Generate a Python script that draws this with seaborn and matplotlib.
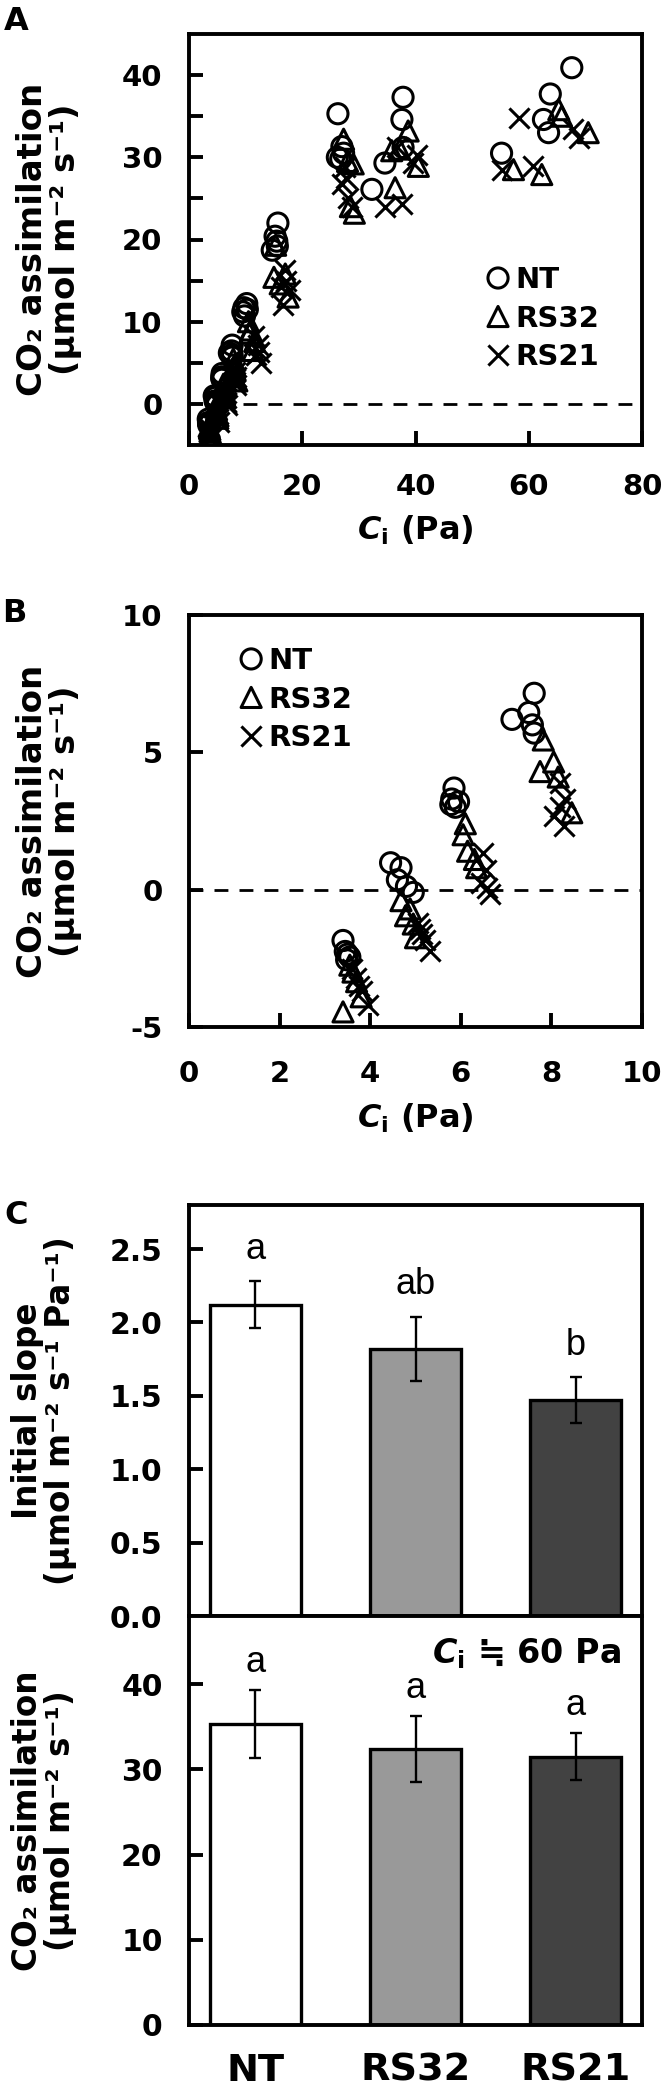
import numpy as np
import matplotlib
matplotlib.use('Agg')
import matplotlib.pyplot as plt
import seaborn as sns
from matplotlib.ticker import FormatStrFormatter

GENOTYPES = ['NT', 'RS32', 'RS21']
MARKERS = ['o', '^', 'x']
BAR_COLORS = ['#ffffff', '#999999', '#424242']

# ── A–Ci points at low Ci (panel B, also drawn in panel A) ──
NT_CI_LOW = [3.40, 3.45, 3.50, 3.55, 3.48, 4.45, 4.68, 4.60, 4.80, 4.95,
             5.85, 5.80, 5.95, 5.88, 5.78, 7.62, 7.13, 7.50, 7.58, 7.62]
NT_A_LOW = [-1.85, -2.25, -2.35, -2.45, -2.55, 0.98, 0.80, 0.36, 0.12, -0.10,
            3.70, 3.30, 3.20, 3.00, 3.10, 7.15, 6.20, 6.45, 6.00, 5.70]
RS32_CI_LOW = [3.40, 3.55, 3.62, 3.70, 3.80, 4.68, 4.78, 4.95, 5.00, 4.88,
               6.10, 6.05, 6.15, 6.30, 6.35, 7.82, 8.05, 7.75, 8.15, 8.45]
RS32_A_LOW = [-4.45, -2.75, -3.00, -3.35, -3.90, -0.40, -0.95, -1.25, -1.75, -0.70,
              2.40, 2.00, 1.40, 1.10, 0.80, 5.45, 4.65, 4.30, 4.10, 2.80]
RS21_CI_LOW = [3.60, 3.68, 3.75, 3.82, 3.95, 5.05, 5.10, 5.15, 5.20, 5.32,
               6.48, 6.55, 6.45, 6.58, 6.65, 8.20, 8.30, 8.20, 8.05, 8.28]
RS21_A_LOW = [-2.90, -3.20, -3.50, -3.70, -4.20, -1.20, -1.45, -1.60, -1.85, -2.25,
              1.35, 0.70, 0.25, 0.05, -0.15, 3.90, 3.30, 3.00, 2.70, 2.30]

# ── A–Ci points at higher Ci (panel A only) ──
NT_CI_HIGH = [10.2, 9.7, 9.5, 9.8, 10.3, 15.7, 15.2, 15.5, 14.7, 15.6,
              26.3, 26.2, 27.0, 27.3, 26.8, 32.3, 34.6, 37.8, 37.6, 37.8,
              67.6, 63.8, 62.6, 63.5, 55.2]
NT_A_HIGH = [12.2, 11.7, 11.2, 10.7, 11.5, 22.0, 20.4, 19.8, 18.7, 19.2,
             35.3, 30.0, 31.3, 30.5, 29.8, 26.1, 29.3, 37.3, 34.6, 31.2,
             40.9, 37.7, 34.6, 33.0, 30.5]
RS32_CI_HIGH = [10.5, 10.9, 11.6, 11.3, 10.7, 15.3, 15.0, 16.1, 17.0, 17.5,
                27.3, 28.0, 29.0, 28.5, 29.2, 38.7, 35.8, 36.4, 40.5, 37.2,
                65.3, 65.8, 70.5, 57.3, 62.3]
RS32_A_HIGH = [10.0, 9.0, 7.6, 6.5, 8.6, 19.3, 15.4, 14.6, 15.8, 13.0,
               32.2, 29.5, 29.2, 24.0, 23.2, 33.2, 30.8, 26.3, 28.9, 31.0,
               35.8, 35.0, 33.0, 28.5, 27.9]
RS21_CI_HIGH = [11.5, 12.1, 12.4, 12.7, 11.9, 16.9, 16.3, 17.8, 17.2, 16.6,
                27.5, 27.0, 28.0, 28.8, 27.8, 36.7, 40.2, 34.6, 37.6, 39.5,
                58.2, 67.9, 68.8, 55.2, 60.8]
RS21_A_HIGH = [8.3, 7.2, 6.3, 5.0, 6.0, 16.3, 14.2, 13.8, 15.0, 12.0,
               28.8, 26.8, 25.0, 24.0, 27.5, 31.2, 30.3, 23.9, 24.3, 29.3,
               34.8, 33.4, 32.4, 28.5, 28.9]

# ── panel C bars ──
SLOPE = [2.12, 1.82, 1.47]
SLOPE_ERR = [0.16, 0.22, 0.155]
SLOPE_LETTERS = ['a', 'ab', 'b']
A60 = [35.3, 32.4, 31.5]
A60_ERR = [4.0, 3.9, 2.8]
A60_LETTERS = ['a', 'a', 'a']

W, H = 662, 2090
MS = 210
MLW = 2.2

sns.set_style('ticks')
plt.rcParams['font.family'] = ['DejaVu Sans']
plt.rcParams['font.weight'] = 'bold'
plt.rcParams['axes.labelweight'] = 'bold'
plt.rcParams['text.color'] = 'black'
plt.rcParams['axes.edgecolor'] = 'black'
plt.rcParams['axes.labelcolor'] = 'black'
plt.rcParams['xtick.color'] = 'black'
plt.rcParams['ytick.color'] = 'black'
plt.rcParams['axes.linewidth'] = 2.8
plt.rcParams['axes.unicode_minus'] = False
plt.rcParams['mathtext.fontset'] = 'custom'
plt.rcParams['mathtext.rm'] = 'DejaVu Sans:bold'
plt.rcParams['mathtext.it'] = 'DejaVu Sans:italic:bold'
plt.rcParams['mathtext.default'] = 'regular'

YLAB_CO2 = 'CO₂ assimilation\n(μmol m⁻² s⁻¹)'
YLAB_SLOPE = 'Initial slope\n(μmol m⁻² s⁻¹ Pa⁻¹)'
XLAB_CI = r'$\mathit{C}_{\mathrm{i}}$ (Pa)'


def px_axes(fig, left, top, right, bottom):
    return fig.add_axes([left / W, 1 - bottom / H, (right - left) / W, (bottom - top) / H])


def style_axes(ax, xpad, ypad=19, size=21):
    ax.tick_params(axis='both', which='both', direction='in', length=10, width=2.8,
                   labelsize=size, top=False, right=False)
    ax.tick_params(axis='x', pad=xpad)
    ax.tick_params(axis='y', pad=ypad)
    for s in ax.spines.values():
        s.set_linewidth(2.8)
        s.set_visible(True)


def draw_scatter(ax, ci_sets, a_sets):
    for g, m, ci, a in zip(GENOTYPES, MARKERS, ci_sets, a_sets):
        if m == 'x':
            sns.scatterplot(x=ci, y=a, marker=m, s=MS, color='black',
                            linewidth=MLW, ax=ax, label=g, zorder=3)
        else:
            sns.scatterplot(x=ci, y=a, marker=m, s=MS, facecolor='none',
                            edgecolor='black', linewidth=MLW, ax=ax, label=g, zorder=3)


def add_legend(ax, anchor):
    ax.legend(loc='upper left', bbox_to_anchor=anchor, frameon=False,
              prop={'weight': 'bold', 'size': 21}, handlelength=1.0, handletextpad=0.1,
              labelspacing=0.36, borderpad=0, borderaxespad=0, scatteryoffsets=[0.5])


fig = plt.figure(figsize=(W / 100, H / 100), dpi=100)

# ── Panel A ──
axA = px_axes(fig, 189, 34, 642, 445)
ci_all = [NT_CI_LOW + NT_CI_HIGH, RS32_CI_LOW + RS32_CI_HIGH, RS21_CI_LOW + RS21_CI_HIGH]
a_all = [NT_A_LOW + NT_A_HIGH, RS32_A_LOW + RS32_A_HIGH, RS21_A_LOW + RS21_A_HIGH]
draw_scatter(axA, ci_all, a_all)
axA.axhline(0, xmin=0.12, xmax=1, color='black', lw=2, ls=(0, (5, 4)), zorder=1)
axA.set_xlim(0, 80)
axA.set_ylim(-5, 45)
axA.set_xticks([0, 20, 40, 60, 80])
axA.set_yticks([0, 10, 20, 30, 40])
axA.set_yticks([5, 15, 25, 35], minor=True)
style_axes(axA, xpad=20)
add_legend(axA, (0.65, 0.435))
axA.set_ylabel(YLAB_CO2, fontsize=24.5, va='center', linespacing=1.0)
axA.yaxis.set_label_coords(-0.31, 0.5)
axA.set_xlabel(XLAB_CI, fontsize=23, va='center')
axA.xaxis.set_label_coords(0.5, -0.207)

# ── Panel B ──
axB = px_axes(fig, 189, 615, 642, 1027)
draw_scatter(axB, [NT_CI_LOW, RS32_CI_LOW, RS21_CI_LOW], [NT_A_LOW, RS32_A_LOW, RS21_A_LOW])
axB.axhline(0, color='black', lw=2, ls=(0, (5, 4)), zorder=1)
axB.set_xlim(0, 10)
axB.set_ylim(-5, 10)
axB.set_xticks([0, 2, 4, 6, 8, 10])
axB.set_yticks([-5, 0, 5, 10])
style_axes(axB, xpad=24)
add_legend(axB, (0.105, 0.922))
axB.set_ylabel(YLAB_CO2, fontsize=24.5, va='center', linespacing=1.0)
axB.yaxis.set_label_coords(-0.31, 0.5)
axB.set_xlabel(XLAB_CI, fontsize=23, va='center')
axB.xaxis.set_label_coords(0.5, -0.221)

# ── Panel C, initial slope ──
axC1 = px_axes(fig, 189, 1205, 642, 1616)
sns.barplot(x=GENOTYPES, y=SLOPE, hue=GENOTYPES, palette=BAR_COLORS, width=0.57,
            edgecolor='black', linewidth=2.4, errorbar=None, legend=False, ax=axC1)
axC1.errorbar(x=np.arange(len(GENOTYPES)), y=SLOPE, yerr=SLOPE_ERR, fmt='none',
              ecolor='black', elinewidth=1.7, capsize=4, capthick=1.7, zorder=5)
for i, (v, e, t) in enumerate(zip(SLOPE, SLOPE_ERR, SLOPE_LETTERS)):
    axC1.text(i, v + e + 0.22, t, ha='center', va='center', fontsize=26,
              fontweight='normal', family='Liberation Sans')
axC1.set_ylim(0, 2.8)
axC1.set_yticks([0, 0.5, 1.0, 1.5, 2.0, 2.5])
axC1.yaxis.set_major_formatter(FormatStrFormatter('%.1f'))
style_axes(axC1, xpad=20, size=21.5)
axC1.tick_params(axis='x', length=0, labelbottom=False)
axC1.set_xlabel('')
axC1.set_ylabel(YLAB_SLOPE, fontsize=23.5, va='center', linespacing=1.0)
axC1.yaxis.set_label_coords(-0.32, 0.5)

# ── Panel C, assimilation at Ci ~ 60 Pa ──
axC2 = px_axes(fig, 189, 1616, 642, 2025)
sns.barplot(x=GENOTYPES, y=A60, hue=GENOTYPES, palette=BAR_COLORS, width=0.57,
            edgecolor='black', linewidth=2.4, errorbar=None, legend=False, ax=axC2)
axC2.errorbar(x=np.arange(len(GENOTYPES)), y=A60, yerr=A60_ERR, fmt='none',
              ecolor='black', elinewidth=1.7, capsize=4, capthick=1.7, zorder=5)
for i, (v, e, t) in enumerate(zip(A60, A60_ERR, A60_LETTERS)):
    axC2.text(i, v + e + 3.2, t, ha='center', va='center', fontsize=26,
              fontweight='normal', family='Liberation Sans')
axC2.text(0.954, 0.907, r'$\mathit{C}_{\mathrm{i}}$ ≒ 60 Pa', transform=axC2.transAxes,
          ha='right', va='center', fontsize=24, fontweight='bold')
axC2.set_ylim(0, 48)
axC2.set_yticks([0, 10, 20, 30, 40])
style_axes(axC2, xpad=20, size=21.5)
axC2.tick_params(axis='x', length=0, labelsize=27.5)
axC2.set_xlabel('')
axC2.set_ylabel(YLAB_CO2, fontsize=23.5, va='center', linespacing=1.0)
axC2.yaxis.set_label_coords(-0.32, 0.5)

# ── panel letters ──
fig.text(4 / W, 1 - 6 / H, 'A', ha='left', va='top', fontsize=23, fontweight='bold')
fig.text(2 / W, 1 - 598 / H, 'B', ha='left', va='top', fontsize=23, fontweight='bold')
fig.text(4 / W, 1 - 1200 / H, 'C', ha='left', va='top', fontsize=23, fontweight='bold')

fig.savefig('out.png', dpi=100)
